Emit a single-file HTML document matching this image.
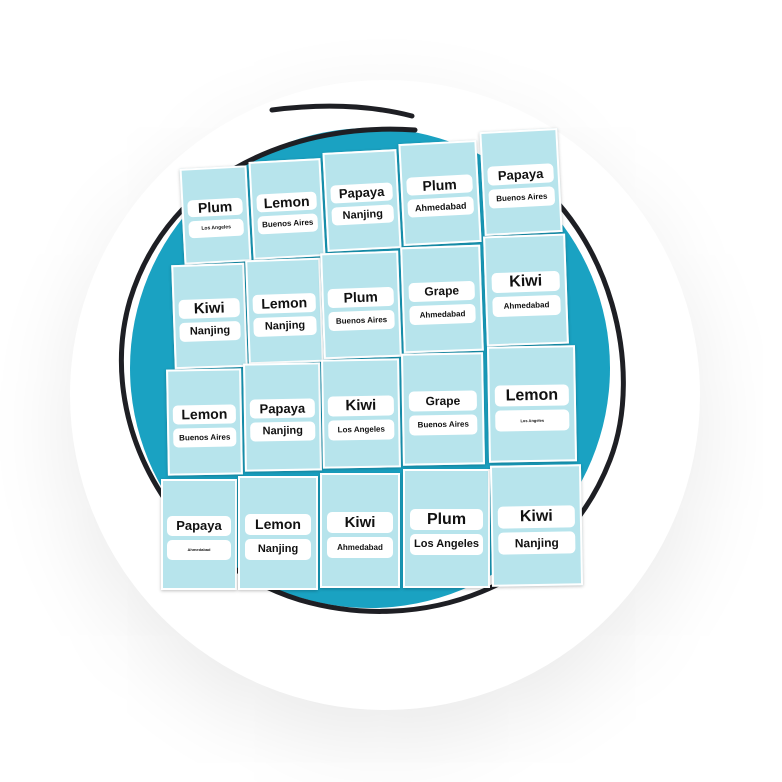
<!DOCTYPE html>
<html><head><meta charset="utf-8"><style>
body{margin:0;width:782px;height:782px;background:#fff;overflow:hidden;position:relative;font-family:"Liberation Sans",sans-serif}
.bg{position:absolute;left:70px;top:80px;width:630px;height:630px;border-radius:50%;background:#fff;box-shadow:0 30px 90px rgba(0,0,0,0.09)}
.c{position:absolute;background:#b7e4ec;border:2px solid #fff;box-sizing:border-box;box-shadow:0 1px 3px rgba(0,0,0,.25)}
.p{position:absolute;left:6%;right:6%;background:#fff;border-radius:5px;text-align:center;font-weight:bold;color:#111;white-space:nowrap;overflow:hidden}
</style></head><body>
<div class="bg"></div>
<svg style="position:absolute;left:0;top:0" width="782" height="782">
<circle cx="370" cy="368" r="240" fill="#1aa2c2"/>
<path d="M415,130 C300,122 170,170 130,300 C95,420 170,560 300,600 C420,635 560,590 610,460 C645,370 610,230 520,170" fill="none" stroke="#1e1f24" stroke-width="5" stroke-linecap="round"/>
<path d="M272,110 Q350,100 412,116" fill="none" stroke="#1e1f24" stroke-width="5" stroke-linecap="round"/>
</svg>
<div id="g"></div>
<script>
var d=[
[182,167,67,96,-3,"Plum","Los Angeles",14,5],
[251,160,72,98,-3,"Lemon","Buenos Aires",14,8],
[325,151,74,99,-3,"Papaya","Nanjing",13,11],
[401,142,78,102,-3,"Plum","Ahmedabad",14,9],
[482,130,78,104,-3,"Papaya","Buenos Aires",13,8],
[173,264,73,104,-2,"Kiwi","Nanjing",15,11],
[247,259,75,104,-2,"Lemon","Nanjing",14,11],
[322,252,78,106,-2,"Plum","Buenos Aires",14,8],
[402,246,80,106,-2,"Grape","Ahmedabad",12,8],
[485,235,82,110,-2,"Kiwi","Ahmedabad",16,8],
[167,369,75,106,-1,"Lemon","Buenos Aires",14,8],
[244,363,77,108,-1,"Papaya","Nanjing",13,11],
[322,359,78,109,-1,"Kiwi","Los Angeles",15,8],
[402,353,82,112,-1,"Grape","Buenos Aires",12,8],
[488,346,88,116,-1,"Lemon","Los Angeles",16,4],
[161,479,76,111,0,"Papaya","Ahmedabad",13,4],
[238,476,80,114,0,"Lemon","Nanjing",14,11],
[320,473,80,115,0,"Kiwi","Ahmedabad",15,8],
[403,469,87,119,0,"Plum","Los Angeles",16,11],
[491,465,91,121,-1,"Kiwi","Nanjing",16,12]];
var h="";
d.forEach(function(a){
var ph=Math.round(a[3]*0.18);
h+='<div class="c" style="left:'+a[0]+'px;top:'+a[1]+'px;width:'+a[2]+'px;height:'+a[3]+'px;transform:rotate('+a[4]+'deg)">'+
'<div class="p" style="top:33%;height:'+ph+'px;line-height:'+ph+'px;font-size:'+a[7]+'px">'+a[5]+'</div>'+
'<div class="p" style="top:calc(33% + '+(ph+4)+'px);height:'+ph+'px;line-height:'+ph+'px;font-size:'+a[8]+'px">'+a[6]+'</div></div>';
});
document.getElementById("g").innerHTML=h;
</script>
</body></html>
